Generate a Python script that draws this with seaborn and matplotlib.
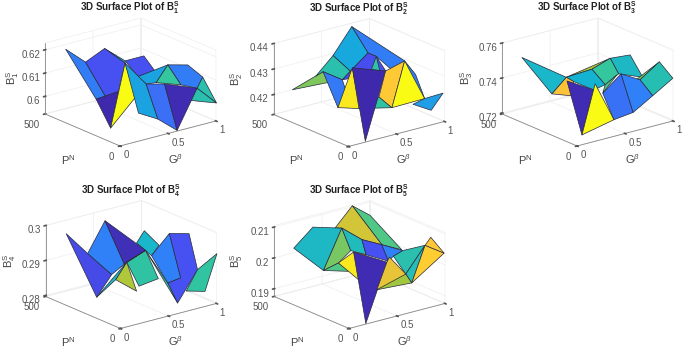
import seaborn as sns, matplotlib
matplotlib.use('Agg')
import matplotlib.pyplot as plt
from mpl_toolkits.mplot3d.art3d import Poly3DCollection

# ---- data: surface vertices (G^beta, P^N, B^S), facets, colour values ----
G1=[.21,.39,.60,.61,.18,.37,.05,.43,.77,.73,.59,.85,.65,.97,.96,.85,1.0,.84,.58,.69,.32,.39,.59,.25,.78,.70,.63]
P1=[500,483,490,360,278,250,98,171,337,240,262,228,178,172,66,33,0,0,200,148,85,0,0,260,95,10,372]
Z1=[.6182,.6112,.6146,.6118,.6032,.6052,.5971,.6046,.6138,.6106,.6089,.6121,.6080,.6123,.6101,.6074,.6004,.6027,.6075,.6078,.6010,.6000,.5930,.6041,.6079,.6047,.6122]
F1=[[26,8,9,10],[10,11,12,18],[11,12,24],[11,13,14,15,24],[15,14,16],[15,16,17,25],[2,26,3],[0,1,23,4],[1,2,3,5,23],[4,5,6],[3,7,6],[3,18,21,20],[18,19,22,21],[19,15,22]]
C1=[.14,.38,.56,.26,.52,.52,.46,.26,.14,.01,1.,.38,.22,.02]

G2=[.06,.37,.30,.55,.81,.77,.54,.43,.34,.93,.90,.79,.80,.74,.58,.67,.72,.20,.35,.31,.51,.17,.75,.52,.67,.98,.86]
P2=[416,410,414,458,500,366,336,320,346,224,132,1,330,224,349,280,256,202,238,132,40,0,236,133,2,0,2]
Z2=[.4236,.4278,.4266,.4312,.4389,.4323,.4282,.4263,.4256,.4312,.4285,.4234,.4316,.4287,.4288,.4289,.4287,.4206,.4237,.4209,.4216,.4128,.4287,.4234,.4223,.4237,.4181]
F2=[[4,9,10,11,12,5],[0,1,8],[2,3,6,7,1],[3,4,5,6],[7,6,5,12,13],[12,15,16],[1,7,18,17],[14,17,19],[19,23,20],[14,22,21],[22,9,20,23],[9,11,20],[11,25,26,24]]
C2=[.26,.66,.52,.40,.13,.54,.25,.95,.54,.01,.87,1.,.36]

G3=[.20,.21,.42,.62,.81,.95,.86,.75,.59,.43,.31,.39,.48,.09,.54,.51,.76,.38,.58,.79,.83,1.0,1.0,.81,.73]
P3=[499,306,344,301,300,257,115,206,193,302,236,320,200,28,228,158,196,0,0,4,114,94,4,123,205]
Z3=[.7492,.7353,.7404,.7437,.7473,.7488,.7425,.7427,.7392,.7394,.7353,.7396,.7376,.7237,.7392,.7368,.7429,.7293,.7306,.7370,.7415,.7501,.7440,.7418,.7424]
F3=[[2,4,3],[4,5,6,7],[3,4,7,8],[23,21,20],[2,3,8,12,9],[1,2,9,10],[0,2,1],[20,21,22,19],[11,12,13],[14,13,17],[15,16,18,17],[16,20,19,18],[15,24,8]]
C3=[.72,.47,.56,.66,.44,.85,.46,.51,.02,1.,.23,.27,.6]

G4=[.21,.34,.07,.32,.61,.48,.70,.84,.81,.70,.35,.31,.40,.57,.96,1.0,.86,.70,.59,.59,1.0,.88,.68,.50,.70]
P4=[500,440,207,267,497,285,284,382,265,244,120,234,136,116,292,186,40,50,66,0,0,3,0,282,344]
Z4=[.2963,.2908,.2845,.2881,.2972,.2896,.2920,.2948,.2930,.2912,.2858,.2873,.2866,.2879,.2948,.2964,.2898,.2884,.2874,.2829,.2941,.2841,.2857,.2901,.2930]
F4=[[24,7,8,9],[0,1,3,2],[1,4,5,3],[4,6,5],[9,14,17,18],[14,15,16,19,18,17],[16,20,21,22],[11,23,10],[2,23,11],[23,6,13,12],[6,19,18],[5,6,23]]
C4=[.46,.12,.27,.03,.27,.14,.55,.72,.47,.54,.56,.8]

G5=[.81,.93,.87,.79,.63,.71,.67,.20,.40,.25,.56,.40,.62,.70,.87,.77,1.0,.71,.68,.41,.57,.39,.69,.17,.43,.59,.74,1.0,1.0]
P5=[500,458,208,290,499,372,480,500,500,334,350,330,286,188,201,200,136,79,20,258,338,190,192,0,93,106,207,9,98]
Z5=[.2105,.2073,.2018,.2024,.2048,.2030,.2048,.2017,.2069,.1975,.2011,.1988,.2006,.1999,.2017,.2007,.2037,.1979,.1965,.1975,.2008,.1964,.1996,.1879,.1948,.1970,.2005,.2038,.2071]
F5=[[0,1,2,3],[4,0,3,5,6],[7,8,6,9],[6,10,11,9],[6,5,12,10],[5,3,13,12],[3,14,15,13],[15,14,16,17],[17,16,18],[9,11,19],[11,20,12,21],[20,22,23],[24,25,17,18],[26,17,24,22],[16,27,18],[28,27,16]]
C5=[.6,.78,.47,.65,.49,.14,.27,.52,.5,.6,.95,.02,.7,.82,.88,.87]

Z_LIMS=[(.59243,.6229),(.4122,.44),(.7194,.76),(.2797,.3),(.1875,.2105)]
Z_TICKS=[[.6,.61,.62],[.42,.43,.44],[.72,.74,.76],[.28,.29,.3],[.19,.2,.21]]
Z_TICKLABELS=[['0.6','0.61','0.62'],['0.42','0.43','0.44'],['0.72','0.74','0.76'],['0.28','0.29','0.3'],['0.19','0.2','0.21']]
G_TICKS=[0,.5,1]; G_LABELS=['0','0.5','1']
P_TICKS=[0,500]; P_LABELS=['0','500']

# ---- layout, in figure pixels from the top left ----
CENTERS=[(130.5,82),(359,82.5),(587.5,82),(131,264.5),(359.5,264.5)]
B_LABEL_DX=[-118,-122,-121,-121,-123]
W,H=685,349
S=182.4

sns.set_theme(style='white')
plt.rcParams['font.family']=['Liberation Sans','DejaVu Sans']
plt.rcParams['mathtext.fontset']='custom'
plt.rcParams['mathtext.rm']='Liberation Sans'
plt.rcParams['mathtext.bf']='Liberation Sans:bold'
plt.rcParams['mathtext.it']='Liberation Sans:italic'
parula=[(.2422,.1504,.6603),(.2810,.3228,.9579),(.1786,.5289,.9682),(.0689,.6948,.8394),
        (.2161,.7843,.5923),(.6720,.7793,.2227),(.9970,.7659,.2199),(.9769,.9839,.0805)]
cmap=sns.blend_palette(parula,as_cmap=True)

fig=plt.figure(figsize=(W/100,H/100),dpi=100)
panels=[(G1,P1,Z1,F1,C1),(G2,P2,Z2,F2,C2),(G3,P3,Z3,F3,C3),(G4,P4,Z4,F4,C4),(G5,P5,Z5,F5,C5)]
for n,(Gv,Pv,Zv,Fv,Cv) in enumerate(panels,start=1):
    cx,cy=CENTERS[n-1]
    ax=fig.add_axes([(cx-.5135*S)/W,(H-cy-.5135*S)/H,S/W,S/H],projection='3d',computed_zorder=False)
    ax.set_proj_type('ortho')
    ax.view_init(elev=19.5,azim=-128)
    ax.set_box_aspect((1,1,.618))
    ax.patch.set_alpha(0)
    for i,(f,c) in enumerate(zip(Fv,Cv)):
        ax.add_collection3d(Poly3DCollection([[(Gv[j],Pv[j],Zv[j]) for j in f]],
                            facecolor=cmap(float(c)),edgecolor='#2a2a3a',linewidth=.5,zorder=10+i))
    ax.set_xlim(0,1);ax.set_ylim(0,500);ax.set_zlim(*Z_LIMS[n-1])
    ax.set_xticks(G_TICKS);ax.set_xticklabels(G_LABELS,ha='left')
    ax.set_yticks(P_TICKS);ax.set_yticklabels(P_LABELS,ha='right')
    ax.set_zticks(Z_TICKS[n-1]);ax.set_zticklabels(Z_TICKLABELS[n-1],ha='right')
    ax.tick_params(labelsize=7,colors='#555555',length=0)
    ax.tick_params(axis='x',pad=-5);ax.tick_params(axis='y',pad=-4);ax.tick_params(axis='z',pad=-6)
    for a in (ax.xaxis,ax.yaxis,ax.zaxis):
        a.pane.set_facecolor('white');a.pane.set_edgecolor('#dddddd');a.pane.set_linewidth(.5)
        a._axinfo['grid'].update(color='#eeeeee',linewidth=.5)
        a.line.set_color('#888888');a.line.set_linewidth(.6)
    def T(dx,dy,s,**kw):
        fig.text((cx+dx)/W,1-(cy+dy)/H,s,ha='center',va='center',color=kw.pop('color','#444444'),**kw)
    T(0,-74,rf'3D Surface Plot of $\mathbf{{B_{n}^S}}$',fontsize=7,fontweight='bold',color='#222222')
    T(B_LABEL_DX[n-1],-4,rf'$\mathrm{{B}}_{n}^{{\mathrm{{S}}}}$',fontsize=8,rotation=90)
    T(-62.5,78,r'$\mathrm{P}^{\mathrm{N}}$',fontsize=8)
    T(44.5,77,r'$\mathrm{G}^{\beta}$',fontsize=8)
fig.savefig('out.png',dpi=100)
